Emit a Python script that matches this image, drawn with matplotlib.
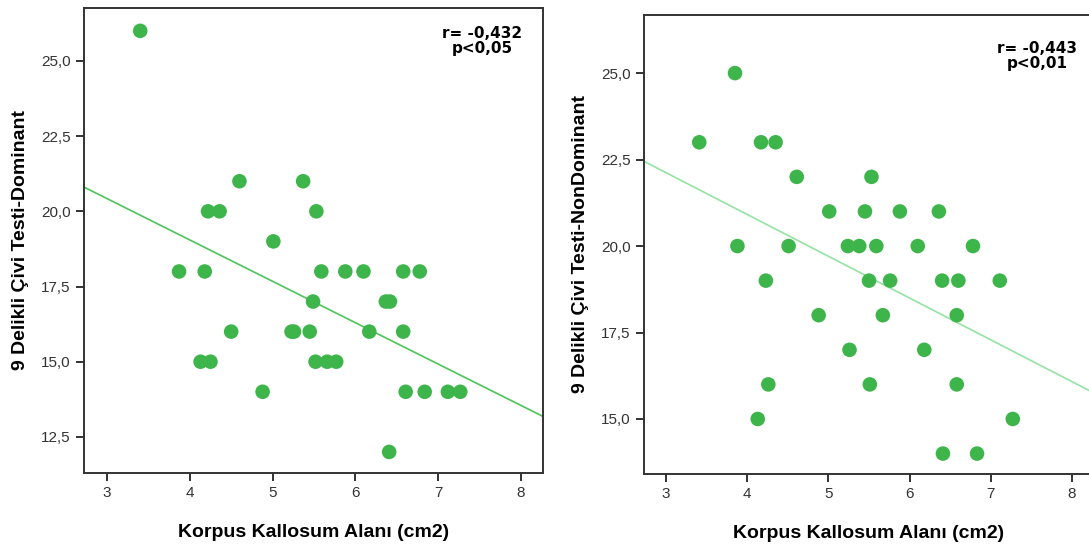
import numpy as np
import matplotlib.pyplot as plt

plt.rcParams['font.family'] = ['Liberation Sans', 'DejaVu Sans']

# Dominant hand
dom_x = [3.40, 4.60, 5.37, 4.22, 4.36, 5.53, 5.01, 3.87, 4.18, 5.59, 5.88, 6.10,
         6.58, 6.78, 5.49, 6.37, 6.42, 4.50, 5.23, 5.26, 5.45, 6.17, 6.58, 4.13,
         4.25, 5.52, 5.66, 5.77, 4.88, 6.61, 6.84, 7.12, 7.27, 6.41]
dom_y = [26, 21, 21, 20, 20, 20, 19, 18, 18, 18, 18, 18,
         18, 18, 17, 17, 17, 16, 16, 16, 16, 16, 16, 15,
         15, 15, 15, 15, 14, 14, 14, 14, 14, 12]

# Non-dominant hand
nd_x = [3.85, 3.41, 4.17, 4.35, 4.61, 5.53, 5.01, 5.45, 5.88, 6.36, 3.88, 4.51,
        5.24, 5.38, 5.59, 6.10, 6.78, 4.23, 5.50, 5.76, 6.40, 6.60, 7.11, 4.88,
        5.67, 6.58, 5.26, 6.18, 4.26, 5.51, 6.58, 4.13, 7.27, 6.41, 6.83]
nd_y = [25, 23, 23, 23, 22, 22, 21, 21, 21, 21, 20, 20,
        20, 20, 20, 20, 20, 19, 19, 19, 19, 19, 19, 18,
        18, 18, 17, 17, 16, 16, 16, 15, 15, 14, 14]

xticks = [3, 4, 5, 6, 7, 8]
xlabel = 'Korpus Kallosum Alanı (cm2)'

fig = plt.figure(figsize=(10.89, 5.47), dpi=100)
ax1 = fig.add_axes([0.0771, 0.1353, 0.4215, 0.8501])
ax2 = fig.add_axes([0.5914, 0.1335, 0.4132, 0.8391])

panels = [
    (ax1, dom_x, dom_y, '9 Delikli Çivi Testi-Dominant', 'r= -0,432\np<0,05',
     (2.72, 8.27), (11.3, 26.76), [12.5, 15, 17.5, 20, 22.5, 25], '#4cc35c',
     (0.867, 0.962), -0.12),
    (ax2, nd_x, nd_y, '9 Delikli Çivi Testi-NonDominant', 'r= -0,443\np<0,01',
     (2.73, 8.27), (13.41, 26.68), [15, 17.5, 20, 22.5, 25], '#95e3a2',
     (0.873, 0.944), -0.122),
]

for ax, x, y, ylab, note, xl, yl, yt, lc, pos, ylx in panels:
    ax.scatter(x, y, s=110, color='#3db54a', edgecolors='none', zorder=3)
    k, b = np.polyfit(x, y, 1)
    xs = np.array(xl)
    ax.plot(xs, k * xs + b, color=lc, lw=1.2, zorder=2)
    ax.set_xlim(xl)
    ax.set_ylim(yl)
    ax.set_xticks(xticks)
    ax.set_yticks(yt)
    ax.set_yticklabels([f'{v:.1f}'.replace('.', ',') for v in yt])
    ax.tick_params(direction='out', length=6, width=1.3, labelsize=11,
                   labelcolor='#333333', color='#222222')
    for s in ax.spines.values():
        s.set_linewidth(1.4)
        s.set_color('#333333')
    ax.set_xlabel(xlabel, fontsize=14, fontweight='bold', labelpad=17)
    ax.set_ylabel(ylab, fontsize=14, fontweight='bold')
    ax.yaxis.set_label_coords(ylx, 0.5)
    ax.text(pos[0], pos[1], note, transform=ax.transAxes, ha='center', va='top',
            fontsize=11, fontweight='bold', linespacing=1.0,
            family='DejaVu Sans')

fig.savefig('out.png', dpi=100)
